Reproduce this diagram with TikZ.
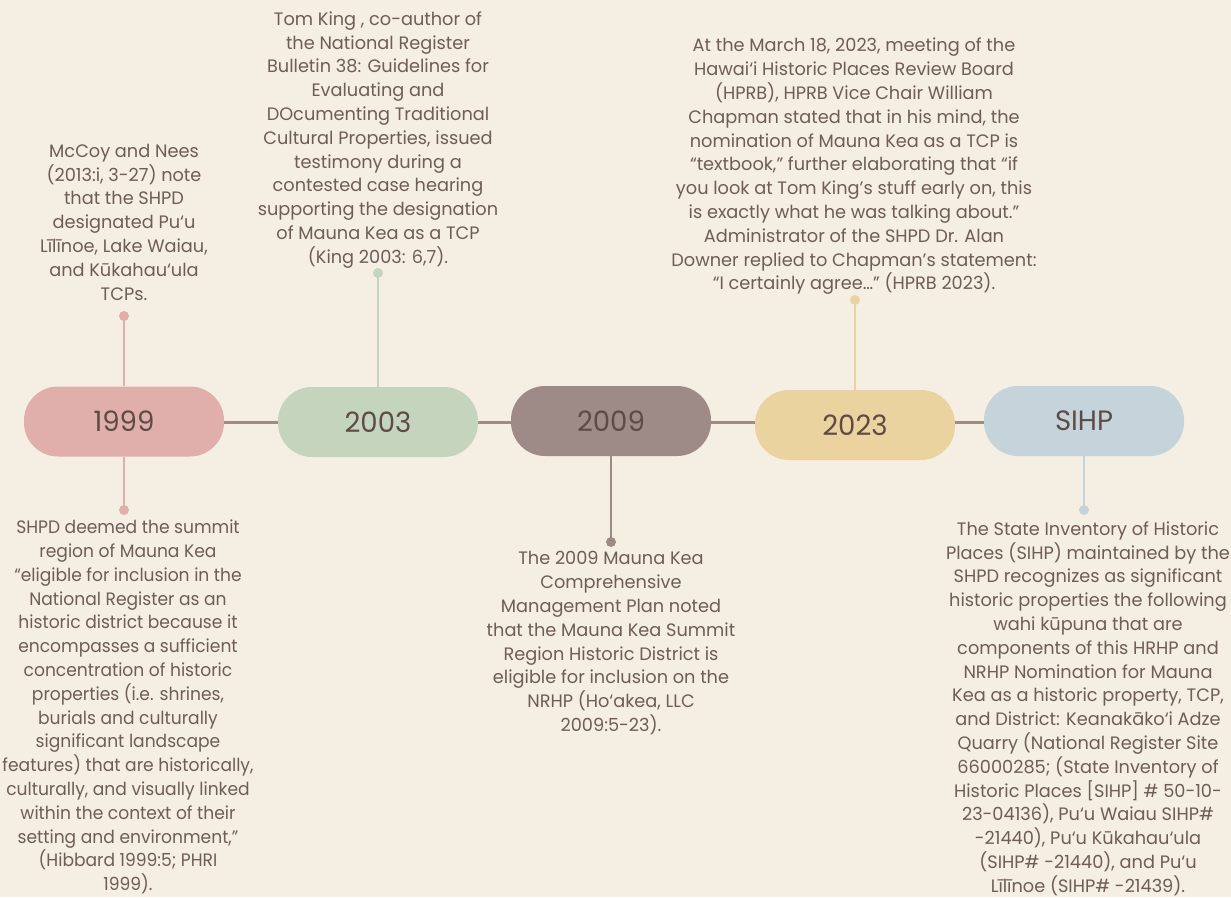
\documentclass[tikz,border=0pt]{standalone}
\usepackage{fontspec}
\setmainfont[FakeStretch=0.985]{Poppins}
\newfontfamily\narrowfont[FakeStretch=0.95]{Poppins}
\usetikzlibrary{backgrounds}
\definecolor{bg}{HTML}{F5EEE2}
\definecolor{cA}{HTML}{E0AEAB}
\definecolor{cB}{HTML}{C5D5BD}
\definecolor{cC}{HTML}{9E8A87}
\definecolor{cD}{HTML}{EAD39F}
\definecolor{cE}{HTML}{C5D4DA}
\definecolor{linec}{HTML}{9E8B86}
\definecolor{bodytxt}{HTML}{6E5D58}
\definecolor{pilltxt}{HTML}{5E4B46}
\begin{document}
\begin{tikzpicture}[x=1pt,y=-1pt,
  pill/.style={rounded corners=34pt, minimum width=200pt, minimum height=70pt, inner sep=0pt, text=pilltxt, font=\fontsize{28}{30}\selectfont},
  txt/.style={align=center, inner sep=0pt, text=bodytxt, anchor=north, font=\fontsize{18}{23.8}\selectfont},
  dotn/.style={circle, inner sep=0pt, minimum size=10pt},
  stem/.style={line width=2.5pt},
  conn/.style={line width=3pt, draw=linec}]
\useasboundingbox (0,0) rectangle (1231,897);
% pills
\node[pill, fill=cA] (p1) at (124,421.5) {1999};
\node[pill, fill=cB] (p2) at (378,422) {2003};
\node[pill, fill=cC] (p3) at (611,421) {2009};
\node[pill, fill=cD] (p4) at (855,425) {2023};
\node[pill, fill=cE] (p5) at (1084,421) {SIHP};
% dots
\node[dotn, fill=cA] (d1a) at (124,316) {};
\node[dotn, fill=cA] (d1b) at (124,510) {};
\node[dotn, fill=cB] (d2) at (378,273) {};
\node[dotn, fill=cC] (d3) at (611,542) {};
\node[dotn, fill=cD] (d4) at (855,300) {};
\node[dotn, fill=cE] (d5) at (1084,510) {};
\begin{scope}[on background layer]
  \fill[bg] (0,0) rectangle (1231,897);
  \draw[conn] (p1.east |- 0,422) -- (p2.west |- 0,422);
  \draw[conn] (p2.east |- 0,422) -- (p3.west |- 0,422);
  \draw[conn] (p3.east |- 0,422) -- (p4.west |- 0,422);
  \draw[conn] (p4.east |- 0,422) -- (p5.west |- 0,422);
  \draw[stem, cA] (d1a.center) -- (p1.north);
  \draw[stem, cA] (d1b.center) -- (p1.south);
  \draw[stem, cB] (d2.center) -- (p2.north);
  \draw[stem, cC] (d3.center) -- (p3.south);
  \draw[stem, cD] (d4.center) -- (p4.north);
  \draw[stem, cE] (d5.center) -- (p5.south);
\end{scope}
% texts
\node[txt] (t1) at (124,143.7) {McCoy and Nees\\(2013:i, 3-27) note\\that the SHPD\\designated Pu‘u\\Līlīnoe, Lake Waiau,\\and Kūkahau‘ula\\TCPs.};
\node[txt] (t2) at (378,11.3) {Tom King , co-author of\\the National Register\\Bulletin 38: Guidelines for\\Evaluating and\\DOcumenting Traditional\\Cultural Properties, issued\\testimony during a\\contested case hearing\\supporting the designation\\of Mauna Kea as a TCP\\(King 2003: 6,7).};
\node[txt] (t3) at (854,38) {At the March 18, 2023, meeting of the\\Hawai‘i Historic Places Review Board\\(HPRB), HPRB Vice Chair William\\Chapman stated that in his mind, the\\nomination of Mauna Kea as a TCP is\\“textbook,” further elaborating that “if\\you look at Tom King’s stuff early on, this\\is exactly what he was talking about.”\\Administrator of the SHPD Dr. Alan\\Downer replied to Chapman’s statement:\\“I certainly agree…” (HPRB 2023).};
\node[txt, font=\narrowfont\fontsize{18}{23.8}\selectfont] (t4) at (128,519.7) {SHPD deemed the summit\\region of Mauna Kea\\“eligible for inclusion in the\\National Register as an\\historic district because it\\encompasses a sufficient\\concentration of historic\\properties (i.e. shrines,\\burials and culturally\\significant landscape\\features) that are historically,\\culturally, and visually linked\\within the context of their\\setting and environment,”\\(Hibbard 1999:5; PHRI\\1999).};
\node[txt] (t5) at (611,551.3) {The 2009 Mauna Kea\\Comprehensive\\Management Plan noted\\that the Mauna Kea Summit\\Region Historic District is\\eligible for inclusion on the\\NRHP (Ho‘akea, LLC\\2009:5-23).};
\node[txt] (t6) at (1088,521.3) {The State Inventory of Historic\\Places (SIHP) maintained by the\\SHPD recognizes as significant\\historic properties the following\\wahi kūpuna that are\\components of this HRHP and\\NRHP Nomination for Mauna\\Kea as a historic property, TCP,\\and District: Keanakāko‘i Adze\\Quarry (National Register Site\\66000285; (State Inventory of\\Historic Places [SIHP] \# 50-10-\\23-04136), Pu‘u Waiau SIHP\#\\-21440), Pu‘u Kūkahau‘ula\\(SIHP\# -21440), and Pu‘u\\Līlīnoe (SIHP\# -21439).};
\end{tikzpicture}
\end{document}
